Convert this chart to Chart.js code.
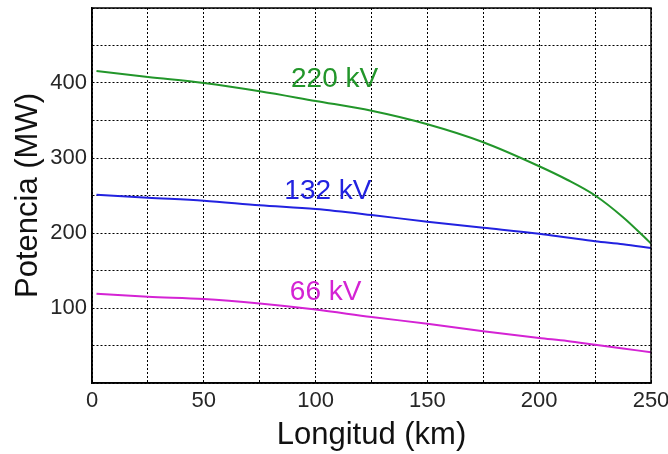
<!DOCTYPE html>
<html>
<head>
<meta charset="utf-8">
<script src="https://cdn.jsdelivr.net/npm/chart.js"></script>
<style>
  html, body { margin: 0; padding: 0; background: #fff; }
  #wrap { width: 668px; height: 454px; position: relative; }
</style>
</head>
<body>
<div id="wrap"><canvas id="chartLines"></canvas></div>
<script>
const longitud = [2, 25, 50, 75, 100, 125, 150, 175, 200, 212.5, 225, 237.5, 250];
const p220 = [416, 408, 400, 389, 376, 363, 345, 321, 289, 271, 250, 221, 186];
const p132 = [251, 247, 243, 237, 232, 224, 215, 207, 199, 194, 189, 185, 180];
const p66 = [119, 115, 112, 106, 98, 88, 79, 69, 60, 56, 51, 46, 41];

const seriesNames = ['220 kV', '132 kV', '66 kV'];
const seriesColors = ['#22962a', '#2222e0', '#d423d4'];
// where each curve label sits (data coords)
const labelX = [108.5, 105.5, 104.5];
const labelY = [405, 256, 121];

const xTicks = [0, 50, 100, 150, 200, 250];
const yTicks = [100, 200, 300, 400];

const font = 'Liberation Sans, Arial, sans-serif';

function pts(ys) {
  return longitud.map((x, i) => ({ x: x, y: ys[i] }));
}

const frameAndLabels = {
  id: 'frameAndLabels',
  afterDatasetsDraw(chart) {
    const ctx = chart.ctx;
    const a = chart.chartArea;
    const xs = chart.scales.x, ys = chart.scales.y;
    ctx.save();
    ctx.font = '28px ' + font;
    ctx.textAlign = 'center';
    ctx.textBaseline = 'middle';
    seriesNames.forEach((name, i) => {
      ctx.fillStyle = seriesColors[i];
      ctx.fillText(name, xs.getPixelForValue(labelX[i]), ys.getPixelForValue(labelY[i]));
    });
    ctx.strokeStyle = '#000';
    ctx.lineWidth = 1.5;
    ctx.strokeRect(a.left, a.top, a.right - a.left, a.bottom - a.top);
    ctx.restore();
  }
};

const data = {
  datasets: [p220, p132, p66].map((ys, i) => ({
    label: seriesNames[i],
    data: pts(ys),
    borderColor: seriesColors[i],
    borderWidth: 2,
    pointRadius: 0,
    cubicInterpolationMode: 'monotone',
    fill: false
  }))
};

const options = {
  responsive: false,
  animation: false,
  layout: { padding: { top: 8, right: 17, left: 0, bottom: 0 } },
  plugins: { legend: { display: false }, tooltip: { enabled: false } },
  scales: {
    x: {
      type: 'linear',
      min: 0,
      max: 250,
      afterFit(s) { s.height = 71; s.paddingLeft = 0; s.paddingRight = 0; },
      afterBuildTicks(s) { s.ticks = []; for (let v = 0; v <= 250; v += 25) s.ticks.push({ value: v }); },
      ticks: {
        autoSkip: false,
        maxRotation: 0,
        color: '#262626',
        font: { family: font, size: 22 },
        padding: 5,
        callback: v => xTicks.includes(v) ? String(v) : ''
      },
      grid: { color: '#000', lineWidth: 1, drawTicks: false },
      border: { display: true, color: '#000', width: 1.5, dash: [2, 2] },
      title: { display: true, text: 'Longitud (km)', color: '#111', font: { family: font, size: 31 }, padding: 0 }
    },
    y: {
      type: 'linear',
      min: 0,
      max: 500,
      afterFit(s) { s.width = 92; s.paddingTop = 0; s.paddingBottom = 0; },
      afterBuildTicks(s) { s.ticks = []; for (let v = 0; v <= 500; v += 50) s.ticks.push({ value: v }); },
      ticks: {
        autoSkip: false,
        color: '#262626',
        font: { family: font, size: 22 },
        padding: 5,
        callback: v => yTicks.includes(v) ? String(v) : ''
      },
      grid: { color: '#000', lineWidth: 1, drawTicks: false },
      border: { display: true, color: '#000', width: 1.5, dash: [2, 2] },
      title: { display: true, text: 'Potencia (MW)', color: '#111', font: { family: font, size: 31 }, padding: { top: 10, bottom: 0 } }
    }
  }
};

const canvas = document.getElementById('chartLines');
canvas.width = 668;
canvas.height = 454;
new Chart(canvas, { type: 'line', data: data, options: options, plugins: [frameAndLabels] });
</script>
</body>
</html>
